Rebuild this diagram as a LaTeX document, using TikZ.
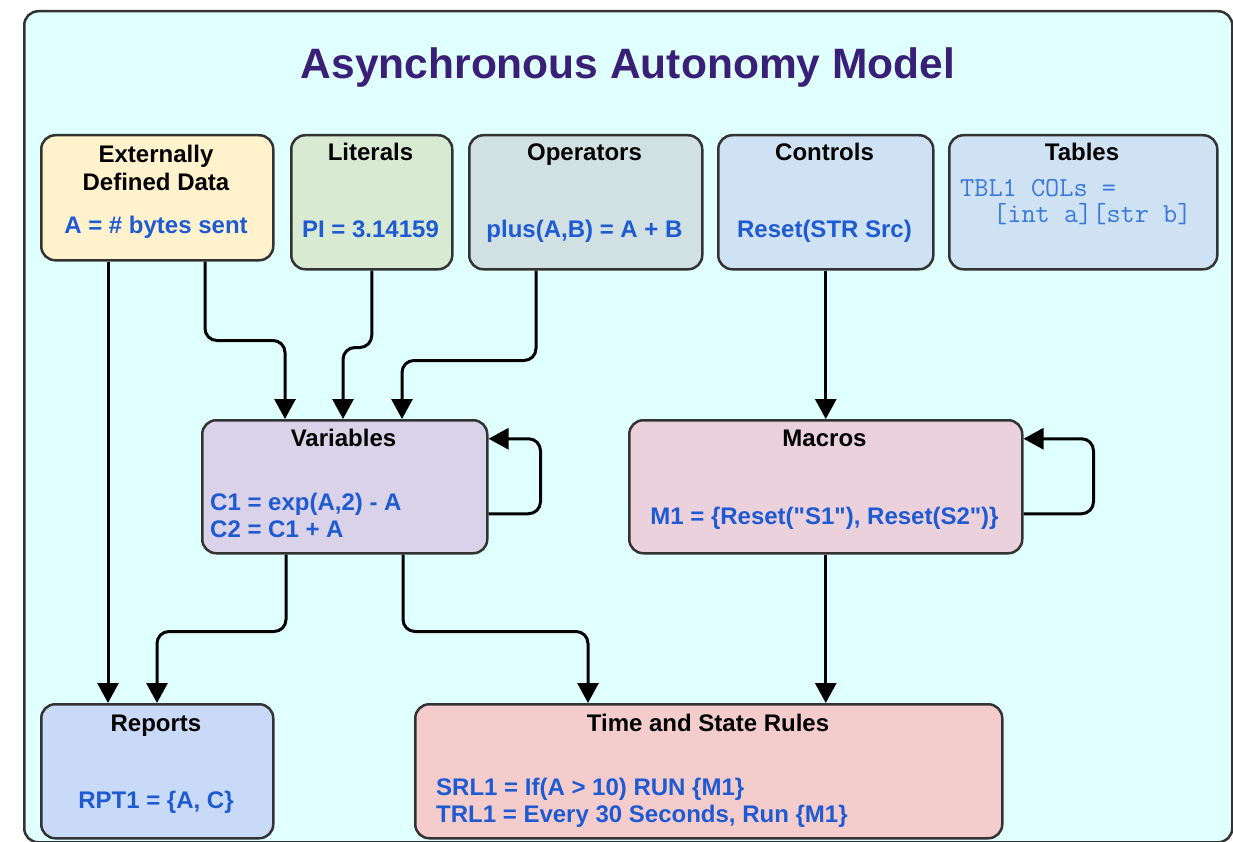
\documentclass[tikz,border=0pt]{standalone}
\usepackage{fontspec}
\setmainfont{Liberation Sans}
\usetikzlibrary{arrows.meta}
\definecolor{bgcyan}{HTML}{E0FFFF}
\definecolor{boxline}{HTML}{333333}
\definecolor{titlecol}{HTML}{3A1F78}
\definecolor{valblue}{HTML}{1E5AD2}
\definecolor{monoblue}{HTML}{3A78DA}
\definecolor{extfill}{HTML}{FFF2CC}
\definecolor{litfill}{HTML}{D9EAD3}
\definecolor{opsfill}{HTML}{D0E0E3}
\definecolor{ctlfill}{HTML}{CFE2F3}
\definecolor{varfill}{HTML}{D9D2E9}
\definecolor{macfill}{HTML}{EAD1DC}
\definecolor{repfill}{HTML}{C9DAF8}
\definecolor{tsrfill}{HTML}{F4CCCC}
\begin{document}
\begin{tikzpicture}[x=1pt,y=-1pt,
  box/.style={draw=boxline, line width=2.5pt, rounded corners=14pt, inner sep=0pt, anchor=north west},
  hd/.style={font=\bfseries\fontsize{24}{28}\selectfont, text=black, anchor=base, inner sep=0pt},
  val/.style={font=\bfseries\fontsize{24}{28}\selectfont, text=valblue, anchor=base, inner sep=0pt},
  valw/.style={val, anchor=base west},
  mono/.style={font=\ttfamily\fontsize{27.5}{30}\selectfont, text=monoblue, anchor=base west, inner sep=0pt},
  arr/.style={-{Triangle[length=20pt,width=21pt]}, line width=3pt, rounded corners=12pt}]
\useasboundingbox (0,0) rectangle (1233,842);
\node[box, fill=bgcyan, minimum width=1208pt, minimum height=831pt] (frame) at (23,10) {};
\node[font=\bfseries\fontsize{42.5}{50}\selectfont, text=titlecol, anchor=base, inner sep=0pt] (title) at (628,79) {Asynchronous Autonomy Model};
% boxes
\node[box, fill=extfill, minimum width=232pt, minimum height=125pt] (ext) at (40,134) {};
\node[box, fill=litfill, minimum width=161pt, minimum height=134pt] (lit) at (290,134) {};
\node[box, fill=opsfill, minimum width=233pt, minimum height=134pt] (ops) at (468,134) {};
\node[box, fill=ctlfill, minimum width=215pt, minimum height=134pt] (ctl) at (717,134) {};
\node[box, fill=ctlfill, minimum width=268pt, minimum height=134pt] (tab) at (948,134) {};
\node[box, fill=varfill, minimum width=285pt, minimum height=133pt] (var) at (201,419) {};
\node[box, fill=macfill, minimum width=393pt, minimum height=133pt] (mac) at (628,419) {};
\node[box, fill=repfill, minimum width=232pt, minimum height=134pt] (rep) at (40,703) {};
\node[box, fill=tsrfill, minimum width=587pt, minimum height=134pt] (tsr) at (414,703) {};
% texts
\node[hd] (extT1) at (156,162.5) {Externally};
\node[hd] (extT2) at (156,190.5) {Defined Data};
\node[val] (extV) at (156,234) {A = \# bytes sent};
\node[hd] (litT) at (370.5,161) {Literals};
\node[val] (litV) at (370.5,238) {PI = 3.14159};
\node[hd] (opsT) at (584.5,161) {Operators};
\node[val] (opsV) at (584.5,238) {plus(A,B) = A + B};
\node[hd] (ctlT) at (824.5,161) {Controls};
\node[val] (ctlV) at (824.5,238) {Reset(STR Src)};
\node[hd] (tabT) at (1082,161) {Tables};
\node[mono] (tab1) at (960,196.5) {TBL1 COLs =};
\node[mono] (tab2) at (993,222.5) {[int a][str b]};
\node[hd] (varT) at (343.5,446) {Variables};
\node[valw] (var1) at (210,510) {C1 = exp(A,2) - A};
\node[valw] (var2) at (210,537.5) {C2 = C1 + A};
\node[hd] (macT) at (824.5,446) {Macros};
\node[val] (macV) at (824.5,524) {M1 = \{Reset(\textquotedbl S1\textquotedbl), Reset(S2\textquotedbl)\}};
\node[hd] (repT) at (156,731) {Reports};
\node[val] (repV) at (156,808) {RPT1 = \{A, C\}};
\node[hd] (tsrT) at (708,731) {Time and State Rules};
\node[valw] (tsr1) at (436,795) {SRL1 = If(A > 10) RUN \{M1\}};
\node[valw] (tsr2) at (436,822.5) {TRL1 = Every 30 Seconds, Run \{M1\}};
% connectors
\draw[arr] ([xshift=68pt]ext.south west) -- ([xshift=68pt]rep.north west);
\draw[arr] ([xshift=165pt]ext.south west) -- ++(0,79) -| ([xshift=84pt]var.north west);
\draw[arr] (lit.south) -- ++(0,77) -| ([xshift=142pt]var.north west);
\draw[arr] ([xshift=68pt]ops.south west) -- ++(0,90) -| ([xshift=201pt]var.north west);
\draw[arr] (ctl.south) -- (mac.north);
\draw[arr] ([yshift=-27pt]var.east) -- ++(52,0) |- ([yshift=48pt]var.east);
\draw[arr] ([yshift=-27pt]mac.east) -- ++(70,0) |- ([yshift=48pt]mac.east);
\draw[arr] ([xshift=85pt]var.south west) -- ++(0,77) -| ([xshift=117pt]rep.north west);
\draw[arr] ([xshift=202pt]var.south west) -- ++(0,77) -| ([xshift=174pt]tsr.north west);
\draw[arr] (mac.south) -- (mac.south |- tsr.north);
\end{tikzpicture}
\end{document}
